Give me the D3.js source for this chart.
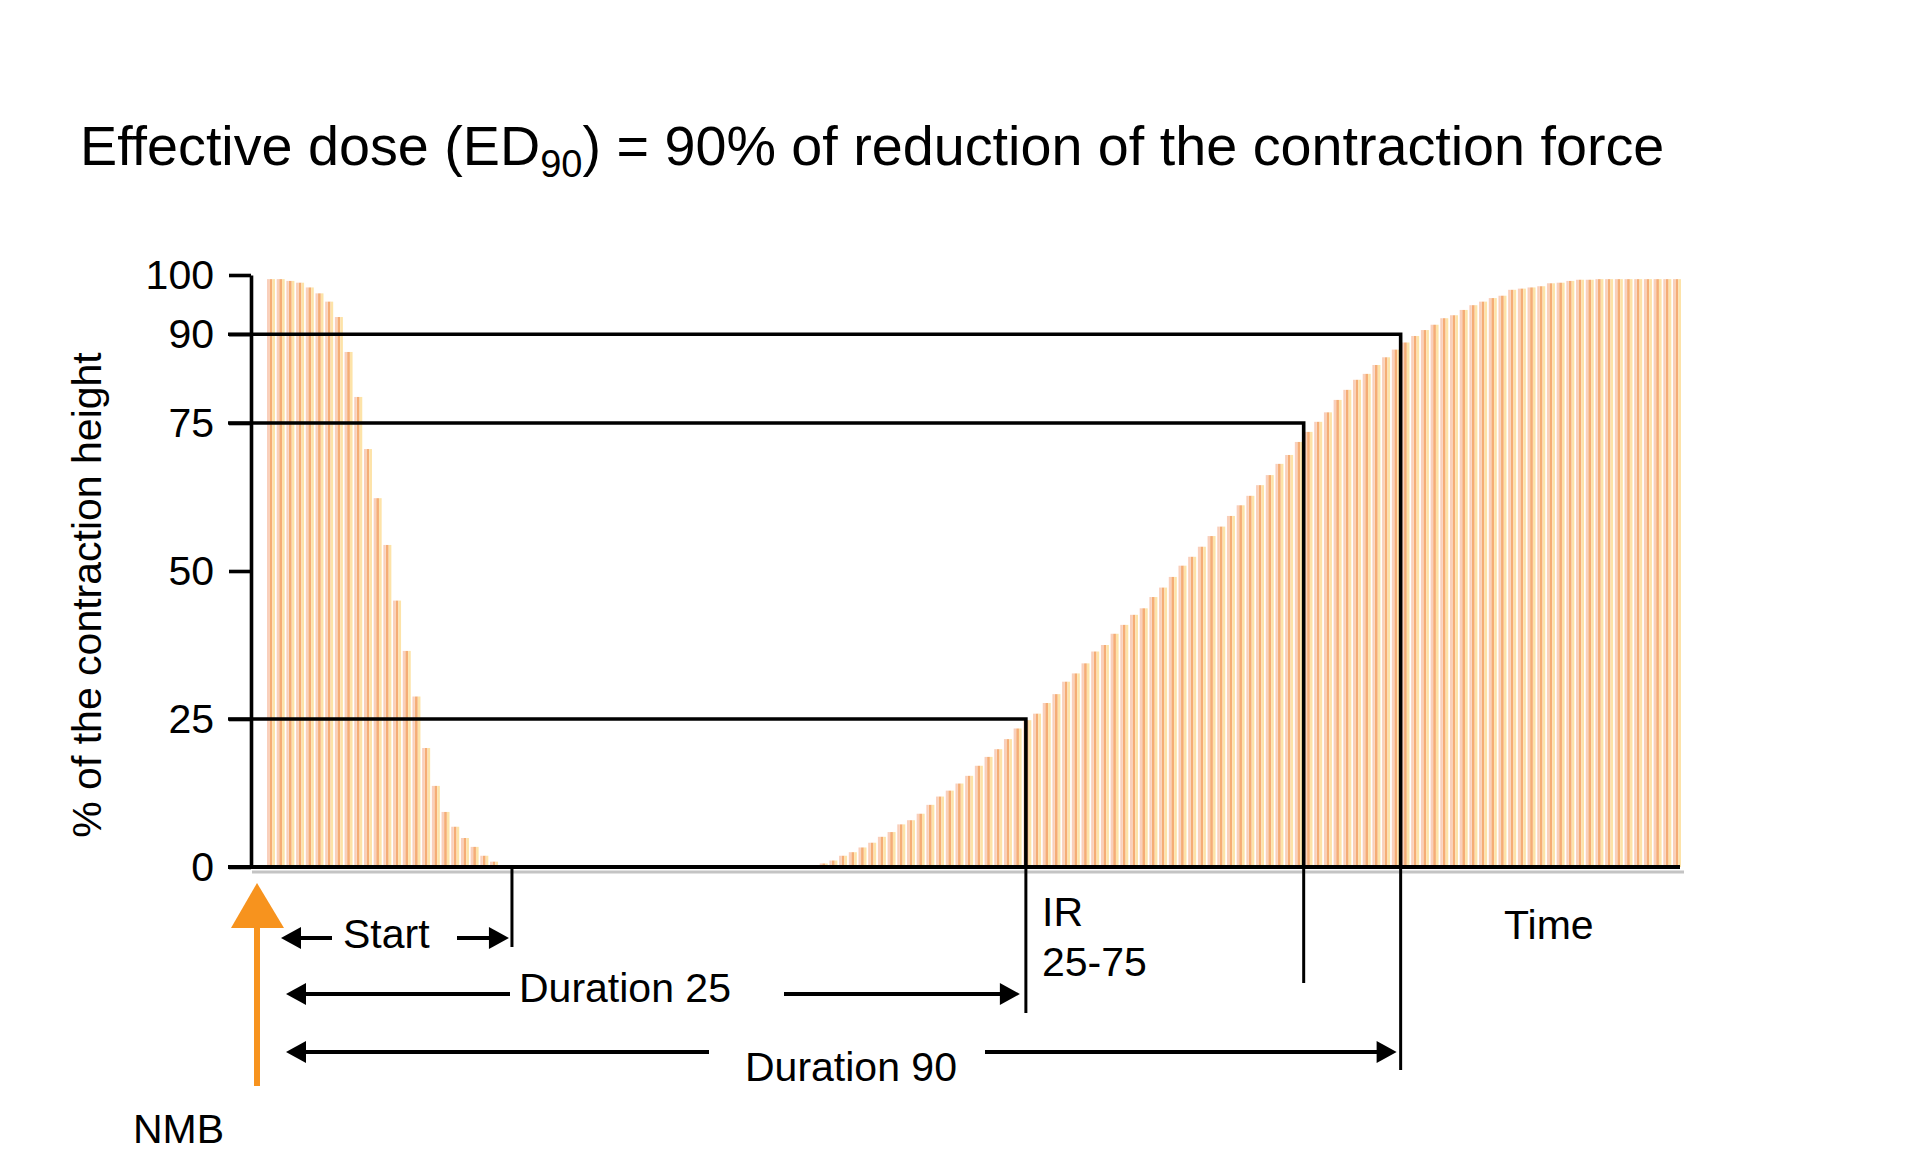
<!DOCTYPE html>
<html>
<head>
<meta charset="utf-8">
<script src="https://cdn.jsdelivr.net/npm/d3@7"></script>
<style>
  body { margin: 0; background: #fff; }
  svg text { font-family: "Liberation Sans", Arial, Helvetica, sans-serif; fill: #000; }
</style>
</head>
<body>
<svg width="1930" height="1164"></svg>
<script>
// twitch height (% of control) for each stimulus
const twitch = [
  99.3, 99.3, 99.0, 98.7, 97.9, 96.9, 95.5, 92.9, 87.0, 79.4,
  70.6, 62.3, 54.4, 45.0, 36.5, 28.8, 20.1, 13.7, 9.3, 6.8,
  4.9, 3.4, 1.9, 0.9, 0.3, 0, 0, 0, 0, 0,
  0, 0, 0, 0, 0, 0, 0, 0, 0, 0,
  0, 0, 0, 0, 0, 0, 0, 0, 0, 0,
  0, 0, 0, 0, 0, 0, 0, 0.6, 1.1, 1.9,
  2.5, 3.3, 4.1, 5.1, 5.9, 7.2, 7.9, 9.0, 10.5, 11.9,
  12.9, 14.1, 15.4, 17.1, 18.6, 19.9, 21.6, 23.4, 24.8, 25.9,
  27.7, 29.2, 31.3, 32.7, 34.4, 36.4, 37.5, 39.4, 40.9, 42.6,
  43.7, 45.6, 47.2, 49.0, 50.9, 52.4, 54.1, 55.9, 57.5, 59.3,
  61.1, 62.7, 64.5, 66.2, 68.1, 69.6, 71.8, 73.5, 75.2, 76.8,
  78.9, 80.6, 82.3, 83.3, 84.8, 86.1, 87.4, 88.6, 89.7, 90.7,
  91.6, 92.7, 93.2, 94.1, 94.9, 95.5, 96.1, 96.5, 97.5, 97.7,
  97.9, 98.1, 98.6, 98.7, 99.0, 99.2, 99.2, 99.3, 99.3, 99.3,
  99.3, 99.3, 99.3, 99.3, 99.3, 99.3
];

const yTicks = [0, 25, 50, 75, 90, 100];

// stimulus index where each marker sits
const onsetTime = 24.85;
const markerLevels = [90, 75, 25];
const markerTimes = [116.5, 106.5, 77.85];

const spanLabels = ["Start", "Duration 25", "Duration 90"];
const spanEnds = [onsetTime, markerTimes[2], markerTimes[0]];

const svg = d3.select("svg");

const x = d3.scaleLinear().domain([0, twitch.length - 1]).range([271, 1677]);
const y = d3.scaleLinear().domain([0, 100]).range([867, 275]);

// title
const title = svg.append("text")
  .attr("x", 80)
  .attr("y", 165)
  .attr("font-size", 55.7);
title.append("tspan").text("Effective dose (ED");
title.append("tspan").attr("font-size", 38).attr("dy", 12).text("90");
title.append("tspan").attr("dy", -12).text(") = 90% of reduction of the contraction force");

// stripes
const bars = svg.append("g").attr("id", "bars")
  .selectAll("g")
  .data(twitch.map((v, i) => ({ i, v })).filter(d => d.v > 0))
  .enter().append("g");

bars.append("rect")
  .attr("x", d => x(d.i) - 4)
  .attr("width", 2.4)
  .attr("y", d => y(d.v))
  .attr("height", d => y(0) - y(d.v))
  .attr("fill", "#f9cfbb");
bars.append("rect")
  .attr("x", d => x(d.i) - 1.4)
  .attr("width", 2.7)
  .attr("y", d => y(d.v))
  .attr("height", d => y(0) - y(d.v))
  .attr("fill", "#f5ad76");
bars.append("rect")
  .attr("x", d => x(d.i) + 1.4)
  .attr("width", 2.6)
  .attr("y", d => y(d.v))
  .attr("height", d => y(0) - y(d.v))
  .attr("fill", "#fde3a8");

// x axis with its grey shadow
svg.append("line")
  .attr("x1", 252).attr("x2", 1684)
  .attr("y1", y(0) + 5).attr("y2", y(0) + 5)
  .attr("stroke", "#c4c4c4").attr("stroke-width", 3);
svg.append("line")
  .attr("x1", 228).attr("x2", 1680)
  .attr("y1", y(0)).attr("y2", y(0))
  .attr("stroke", "#000").attr("stroke-width", 4);

// y axis
const yAxis = d3.axisLeft(y)
  .tickValues(yTicks)
  .tickSize(22)
  .tickSizeOuter(0)
  .tickPadding(15);

svg.append("g")
  .attr("transform", "translate(251,0)")
  .call(yAxis)
  .call(g => g.attr("font-size", 41).attr("font-family", null))
  .call(g => g.select(".domain").attr("stroke-width", 3.6))
  .call(g => g.selectAll(".tick line").attr("stroke-width", 3.6));

svg.append("text")
  .attr("transform", "translate(101,595) rotate(-90)")
  .attr("text-anchor", "middle")
  .attr("font-size", 41)
  .text("% of the contraction height");

// threshold lines and their drops below the axis
const drops = [1070, 983, 1013];
const lv = svg.append("g").selectAll("g")
  .data(markerLevels)
  .enter().append("g");
lv.append("path")
  .attr("d", (v, k) => `M228,${y(v)}H${x(markerTimes[k])}V${y(0)}`)
  .attr("fill", "none")
  .attr("stroke", "#000")
  .attr("stroke-width", 3.6);
lv.append("line")
  .attr("x1", (v, k) => x(markerTimes[k])).attr("x2", (v, k) => x(markerTimes[k]))
  .attr("y1", y(0)).attr("y2", (v, k) => drops[k])
  .attr("stroke", "#000")
  .attr("stroke-width", 3);

svg.append("line")
  .attr("x1", x(onsetTime)).attr("x2", x(onsetTime))
  .attr("y1", y(0)).attr("y2", 947)
  .attr("stroke", "#000").attr("stroke-width", 3);

// double arrows with a gap for their labels
const spanY = [938, 994, 1052];
const labelX = [343, 519, 745];
const labelY = [948, 1002, 1081];
const gapL = [332, 510, 709];
const gapR = [457, 784, 985];
const leftTip = [281, 286, 286];
const rightTip = spanEnds.map((t, k) => x(t) - [3, 6, 4][k]);

function head(tx, ty, dir) {
  const L = 20, W = 11;
  return `M${tx},${ty}L${tx - dir * L},${ty - W}L${tx - dir * L},${ty + W}Z`;
}

const sp = svg.append("g").selectAll("g").data(spanLabels).enter().append("g");
sp.append("line")
  .attr("x1", (d, k) => leftTip[k] + 10).attr("x2", (d, k) => gapL[k])
  .attr("y1", (d, k) => spanY[k]).attr("y2", (d, k) => spanY[k])
  .attr("stroke", "#000").attr("stroke-width", 4.2);
sp.append("line")
  .attr("x1", (d, k) => gapR[k]).attr("x2", (d, k) => rightTip[k] - 10)
  .attr("y1", (d, k) => spanY[k]).attr("y2", (d, k) => spanY[k])
  .attr("stroke", "#000").attr("stroke-width", 4.2);
sp.append("path").attr("d", (d, k) => head(leftTip[k], spanY[k], -1));
sp.append("path").attr("d", (d, k) => head(rightTip[k], spanY[k], 1));
sp.append("text")
  .attr("x", (d, k) => labelX[k])
  .attr("y", (d, k) => labelY[k])
  .attr("font-size", 41)
  .text(d => d);

// other labels
svg.append("text").attr("x", 1042).attr("y", 926).attr("font-size", 41).text("IR");
svg.append("text").attr("x", 1042).attr("y", 976).attr("font-size", 41).text("25-75");
svg.append("text").attr("x", 1504).attr("y", 939).attr("font-size", 41).text("Time");
svg.append("text").attr("x", 133).attr("y", 1143).attr("font-size", 41).text("NMB");

// NMB injection arrow
svg.append("line")
  .attr("x1", 257).attr("x2", 257)
  .attr("y1", 920).attr("y2", 1086)
  .attr("stroke", "#f7931e").attr("stroke-width", 6);
svg.append("path")
  .attr("d", "M257,883L284,928L231,928Z")
  .attr("fill", "#f7931e");
</script>
</body>
</html>
